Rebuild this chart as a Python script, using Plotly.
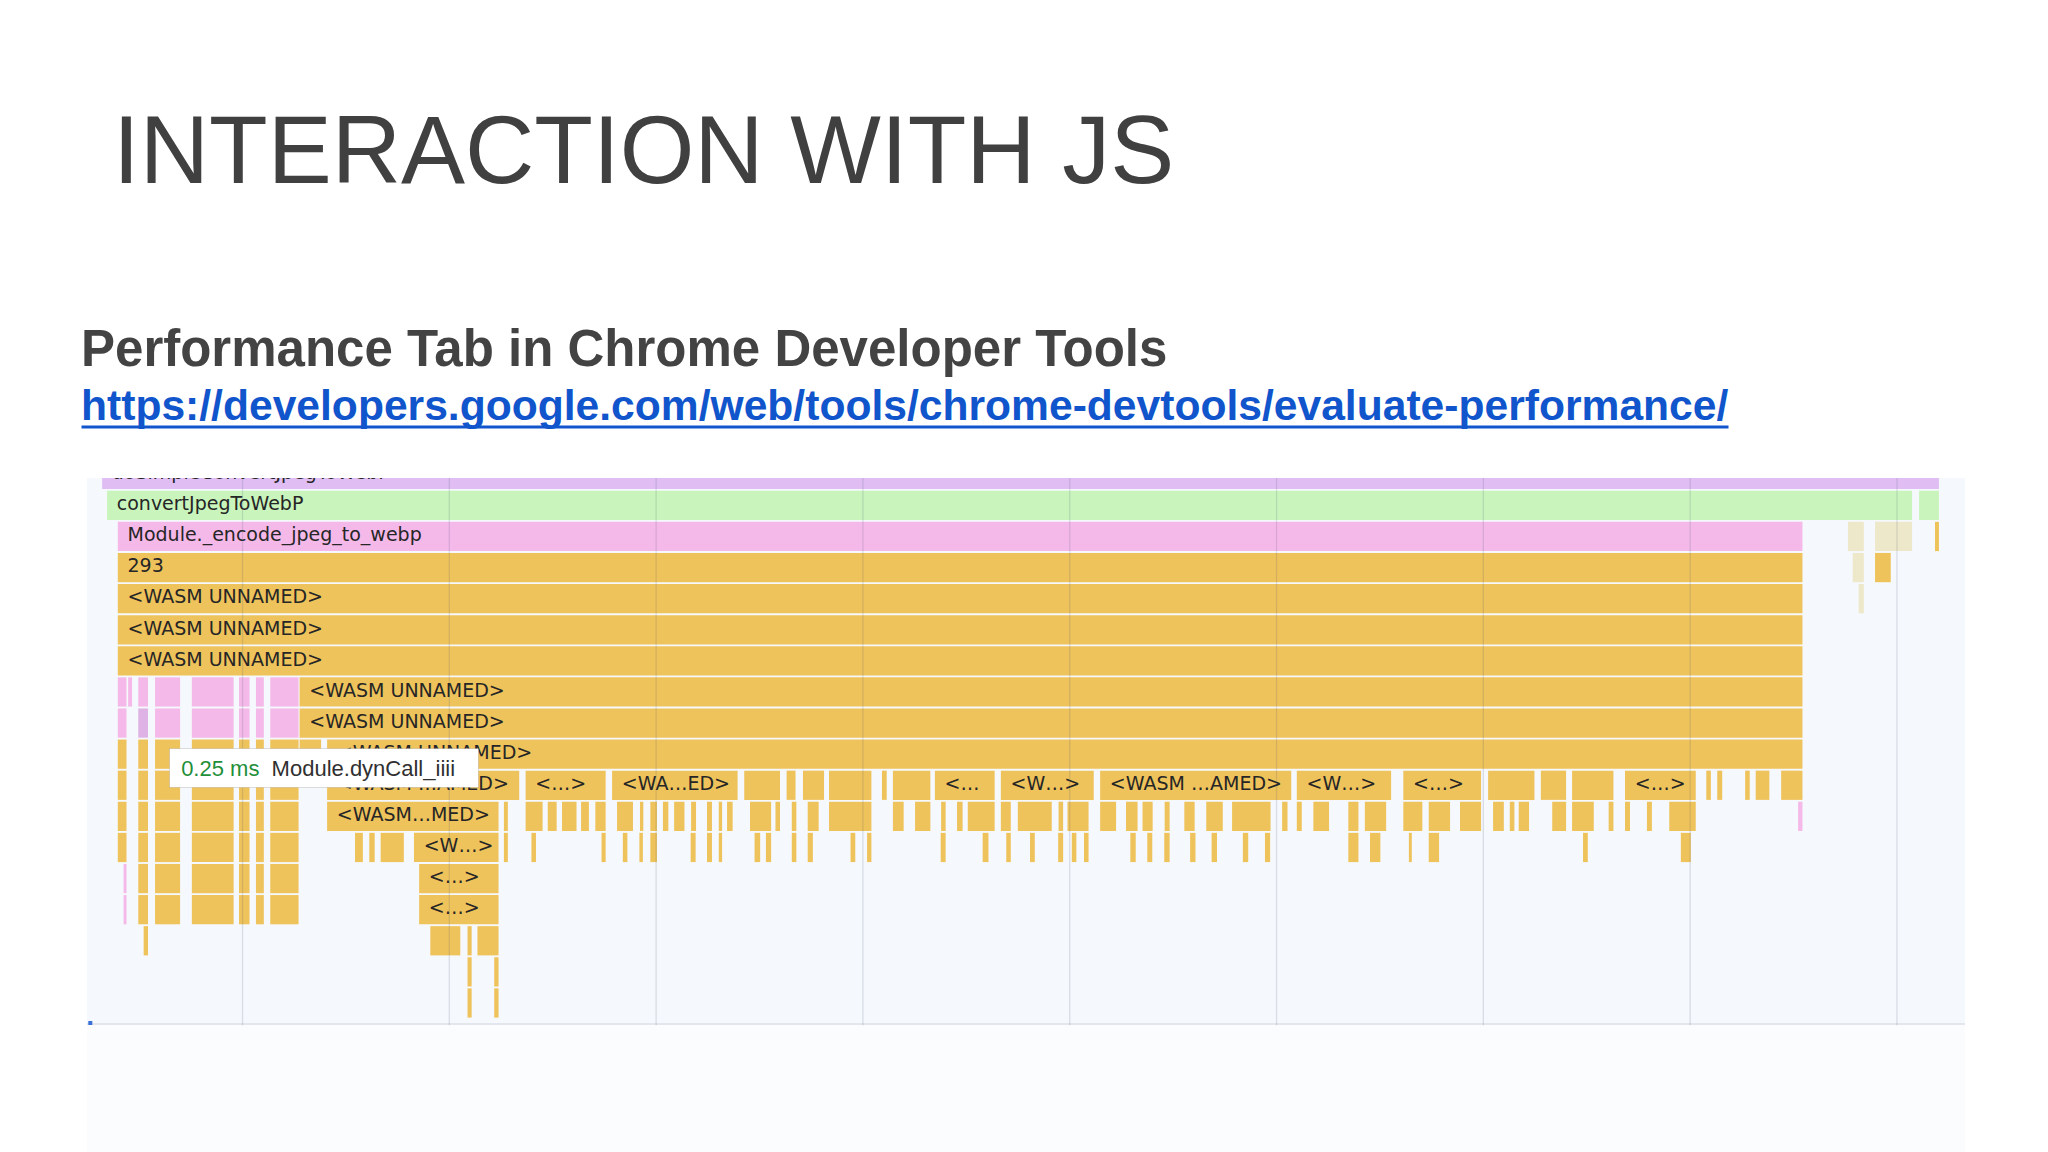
import plotly.graph_objects as go

# ---------------------------------------------------------------
# Flame-chart data (time in ms, depth = row, 0 = top of stack)
# ---------------------------------------------------------------
COLUMN_BLOCKS = [(3.97, 4.39), (4.96, 5.43), (5.77, 6.98), (7.55, 9.57),
                 (9.83, 10.34), (10.65, 11.03), (11.34, 12.71)]

TASK_FRAMES = [(0, 3.21, 92.03)]
JS_FRAMES = [(1, 3.45, 90.73), (1, 91.07, 92.03)]
MODULE_FRAMES = (
    [(2, 3.97, 85.43), (7, 4.47, 4.66)]
    + [(7, s, e) for s, e in COLUMN_BLOCKS]
    + [(8, s, e) for s, e in COLUMN_BLOCKS if s != 4.96]
    + [(11, 85.22, 85.43), (13, 4.25, 4.39), (14, 4.25, 4.39)]
)
LAVENDER_FRAMES = [(8, 4.96, 5.43)]
DIMMED_FRAMES = [(2, 87.63, 88.40), (2, 88.94, 90.73), (3, 87.86, 88.40), (4, 88.15, 88.40)]

ROW10 = [(14.09, 23.38), (23.69, 27.56), (27.87, 33.94), (34.26, 35.99), (36.31, 36.74),
         (37.10, 38.12), (38.36, 40.41), (40.92, 41.15), (41.45, 43.26), (43.48, 46.37),
         (46.67, 51.16), (51.47, 60.71), (60.98, 65.54), (66.13, 69.89), (70.23, 72.47),
         (72.78, 74.00), (74.29, 76.29), (76.85, 80.27), (80.78, 81.00), (81.31, 81.55),
         (82.66, 82.88), (83.17, 83.83), (84.40, 85.43)]
ROW11 = [(14.09, 22.38), (22.64, 22.83), (23.69, 24.51), (24.76, 25.19), (25.45, 26.15),
         (26.37, 26.75), (27.06, 27.56), (28.11, 28.88), (29.22, 29.38), (29.72, 30.04),
         (30.33, 30.59), (30.87, 31.37), (31.69, 31.93), (32.46, 32.70), (33.03, 33.19),
         (33.43, 33.70), (34.54, 35.56), (35.77, 35.99), (36.56, 36.78), (37.33, 37.86),
         (38.36, 40.41), (41.45, 41.97), (42.52, 43.26), (43.78, 44.00), (44.55, 44.82),
         (45.07, 46.37), (46.67, 47.15), (47.49, 49.13), (49.46, 49.68), (49.89, 50.91),
         (51.47, 52.24), (52.72, 53.28), (53.52, 54.01), (54.59, 54.83), (55.54, 56.04),
         (56.60, 57.40), (57.85, 59.71), (60.27, 60.53), (60.98, 61.22), (61.78, 62.54),
         (63.47, 63.96), (64.27, 65.30), (66.13, 67.05), (67.36, 68.39), (68.87, 69.89),
         (70.47, 70.99), (71.28, 71.50), (71.71, 72.21), (73.33, 74.00), (74.29, 75.34),
         (76.06, 76.29), (76.85, 77.09), (77.91, 78.15), (78.99, 80.27)]
ROW12 = [(15.44, 15.82), (16.13, 16.39), (16.68, 17.80), (18.29, 22.38), (22.64, 22.83),
         (23.97, 24.19), (27.36, 27.56), (28.39, 28.61), (29.19, 29.36), (29.72, 30.04),
         (31.67, 31.91), (32.46, 32.70), (33.03, 33.19), (34.76, 35.03), (35.31, 35.56),
         (36.56, 36.78), (37.33, 37.58), (39.40, 39.63), (40.20, 40.41), (43.76, 44.00),
         (45.79, 46.07), (46.93, 47.15), (48.08, 48.31), (49.44, 49.68), (50.10, 50.32),
         (50.69, 50.91), (52.93, 53.19), (53.75, 53.99), (54.57, 54.83), (55.82, 56.08),
         (56.86, 57.12), (58.37, 58.63), (59.44, 59.69), (63.47, 63.96), (64.52, 65.02),
         (66.40, 66.54), (67.36, 67.86), (74.82, 75.05), (79.55, 80.03)]
ROW13 = [(18.54, 22.38)]
ROW14 = [(18.54, 22.38)]
ROW15 = [(5.22, 5.43), (19.08, 20.53), (20.88, 21.08), (21.36, 22.38)]
ROW16 = [(20.88, 21.08), (22.17, 22.38)]
ROW17 = [(20.88, 21.08), (22.17, 22.38)]

WASM_FRAMES = (
    [(2, 91.84, 92.03), (3, 3.97, 85.43), (3, 88.94, 89.70),
     (4, 3.97, 85.43), (5, 3.97, 85.43), (6, 3.97, 85.43),
     (7, 12.76, 85.43), (8, 12.76, 85.43), (9, 12.76, 13.80), (9, 14.09, 85.43)]
    + [(9, s, e) for s, e in COLUMN_BLOCKS]
    + [(10, s, e) for s, e in COLUMN_BLOCKS] + [(10, s, e) for s, e in ROW10]
    + [(11, s, e) for s, e in COLUMN_BLOCKS] + [(11, s, e) for s, e in ROW11]
    + [(12, s, e) for s, e in COLUMN_BLOCKS] + [(12, s, e) for s, e in ROW12]
    + [(13, s, e) for s, e in COLUMN_BLOCKS[1:]] + [(13, s, e) for s, e in ROW13]
    + [(14, s, e) for s, e in COLUMN_BLOCKS[1:]] + [(14, s, e) for s, e in ROW14]
    + [(15, s, e) for s, e in ROW15] + [(16, s, e) for s, e in ROW16]
    + [(17, s, e) for s, e in ROW17]
)

W = "&lt;WASM UNNAMED&gt;"
FRAME_LABELS = [
    (0, 3.21, "doSimpleConvertJpegToWebP"),
    (1, 3.45, "convertJpegToWebP"),
    (2, 3.97, "Module._encode_jpeg_to_webp"),
    (3, 3.97, "293"),
    (4, 3.97, W), (5, 3.97, W), (6, 3.97, W),
    (7, 12.76, W), (8, 12.76, W), (9, 14.09, W),
    (10, 14.09, "&lt;WASM …AMED&gt;"), (10, 23.69, "&lt;…&gt;"), (10, 27.87, "&lt;WA…ED&gt;"),
    (10, 43.48, "&lt;…"), (10, 46.67, "&lt;W…&gt;"), (10, 51.47, "&lt;WASM …AMED&gt;"),
    (10, 60.98, "&lt;W…&gt;"), (10, 66.13, "&lt;…&gt;"), (10, 76.85, "&lt;…&gt;"),
    (11, 14.09, "&lt;WASM…MED&gt;"),
    (12, 18.29, "&lt;W…&gt;"),
    (13, 18.54, "&lt;…&gt;"), (14, 18.54, "&lt;…&gt;"),
]
LABEL_PAD_MS = 0.47
GRID_TIMES_MS = [10, 20, 30, 40, 50, 60, 70, 80, 90]
TOOLTIP_TIME = "0.25 ms"
TOOLTIP_NAME = "Module.dynCall_iiii"
TOOLTIP_POS = (6.46, 9.45)

# ---------------------------------------------------------------
fig = go.Figure()


def add_frames(frames, color):
    fig.add_trace(go.Bar(
        orientation="h",
        y=[d for d, _, _ in frames],
        base=[s for _, s, _ in frames],
        x=[e - s for _, s, e in frames],
        width=0.94,
        marker=dict(color=color, line=dict(width=0)),
        hoverinfo="skip",
        cliponaxis=True,
        showlegend=False,
    ))


add_frames(TASK_FRAMES, "#e0bef4")
add_frames(JS_FRAMES, "#c9f5bc")
add_frames(MODULE_FRAMES, "#f5b9e9")
add_frames(LAVENDER_FRAMES, "#deb2e4")
add_frames(DIMMED_FRAMES, "#eee8cb")
add_frames(WASM_FRAMES, "#efc35b")

fig.add_trace(go.Scatter(
    x=[s + LABEL_PAD_MS for _, s, _ in FRAME_LABELS],
    y=[d for d, _, _ in FRAME_LABELS],
    text=[t for _, _, t in FRAME_LABELS],
    mode="text",
    textposition="middle right",
    textfont=dict(family="DejaVu Sans", size=19, color="#262626"),
    cliponaxis=True,
    hoverinfo="skip",
    showlegend=False,
))

PLOT_L, PLOT_R, PLOT_T, PLOT_B = 87, 83, 478, 129
PW = 2048 - PLOT_L - PLOT_R
PH = 1152 - PLOT_T - PLOT_B

def px_x(px):
    return (px - PLOT_L) / PW

def px_y(py):
    return (1152 - PLOT_B - py) / PH

shapes = []
# faint area below the time axis
shapes.append(dict(type="rect", xref="paper", yref="paper", x0=0, x1=1,
                   y0=px_y(1152), y1=0, fillcolor="#fbfcfd", line=dict(width=0), layer="below"))
for g in GRID_TIMES_MS:
    shapes.append(dict(type="line", xref="x", yref="paper", x0=g, x1=g, y0=-0.004, y1=1,
                       line=dict(color="rgba(70,80,110,0.16)", width=1.3), layer="above"))
# link underline
shapes.append(dict(type="line", xref="paper", yref="paper", x0=px_x(81.5), x1=px_x(1728.5),
                   y0=px_y(427), y1=px_y(427), line=dict(color="#1155cc", width=3)))
# small blue marker at chart origin
shapes.append(dict(type="rect", xref="paper", yref="paper", x0=px_x(88.3), x1=px_x(92.3),
                   y0=px_y(1025), y1=px_y(1021), fillcolor="#3a6fd8", line=dict(width=0), layer="above"))

annotations = [
    dict(text="INTERACTION WITH JS", xref="paper", yref="paper", x=px_x(111), y=px_y(149),
         xanchor="left", yanchor="middle", showarrow=False,
         font=dict(family="Liberation Sans, Arial", size=96, color="#404040")),
    dict(text="<b>Performance Tab in Chrome Developer Tools</b>", xref="paper", yref="paper",
         x=px_x(79), y=px_y(348.5), xanchor="left", yanchor="middle", showarrow=False,
         font=dict(family="Liberation Sans, Arial", size=51, color="#434343")),
    dict(text="<b>https://developers.google.com/web/tools/chrome-devtools/evaluate-performance/</b>",
         xref="paper", yref="paper", x=px_x(78.5), y=px_y(404.5), xanchor="left", yanchor="middle",
         showarrow=False, font=dict(family="Liberation Sans, Arial", size=42.6, color="#1155cc")),
    dict(text="&nbsp;<span style='color:#1f8f3a'>" + TOOLTIP_TIME + "</span>&nbsp; " + TOOLTIP_NAME,
         xref="x", yref="y", x=TOOLTIP_POS[0], y=TOOLTIP_POS[1], xanchor="left", yanchor="middle",
         showarrow=False, align="left", width=298, height=28, borderpad=5,
         bgcolor="#ffffff", bordercolor="rgba(0,0,0,0.13)", borderwidth=1,
         font=dict(family="Liberation Sans, Arial", size=22, color="#303030")),
]

fig.update_layout(
    width=2048, height=1152, autosize=False,
    margin=dict(l=PLOT_L, r=PLOT_R, t=PLOT_T, b=PLOT_B, pad=0),
    paper_bgcolor="#ffffff", plot_bgcolor="#f5f8fc",
    barmode="overlay", showlegend=False,
    xaxis=dict(range=[2.48, 93.29], showgrid=False, zeroline=False, showticklabels=False,
               ticks="", showline=True, linecolor="#e3e6ec", linewidth=2, fixedrange=True),
    yaxis=dict(range=[17.644, 0.12], showgrid=False, zeroline=False, showticklabels=False,
               ticks="", showline=False, fixedrange=True),
    shapes=shapes, annotations=annotations,
)

fig.write_html("out.html", include_plotlyjs=True, config={"displayModeBar": False},
               post_script="document.body.style.margin='0';document.body.style.overflow='hidden';")
